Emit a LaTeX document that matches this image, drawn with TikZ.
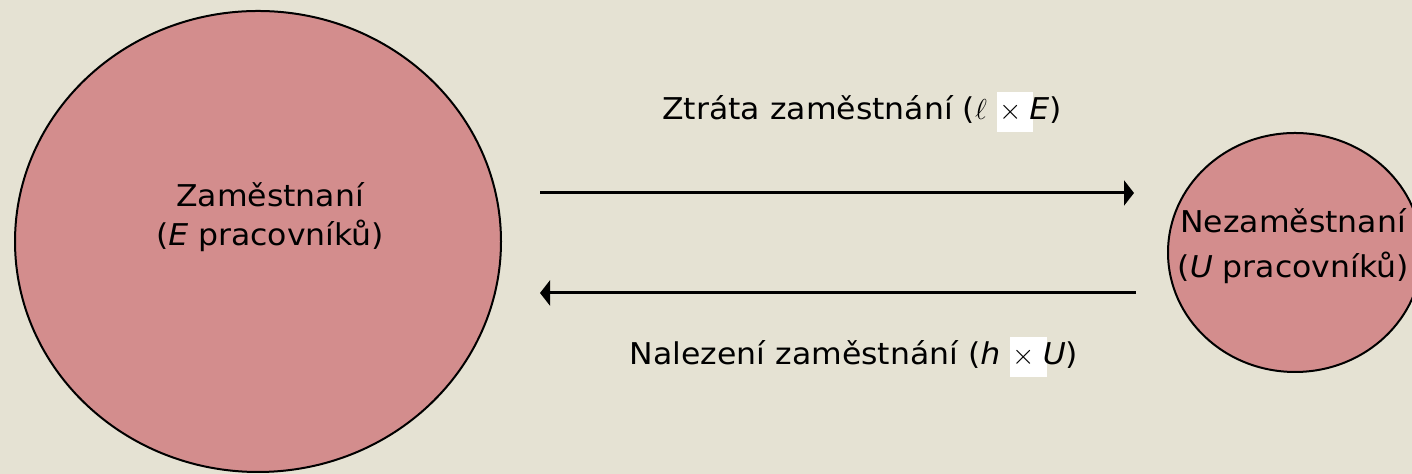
\documentclass[tikz,border=0pt]{standalone}
\usepackage{fontspec}
\usepackage{xcolor}
\usetikzlibrary{shapes.geometric,arrows.meta}
\setmainfont{DejaVu Sans}[FakeStretch=1.05]
\definecolor{slidebg}{RGB}{229,226,211}
\definecolor{poolred}{RGB}{211,141,141}
\newcommand{\whitetimes}{{\setlength{\fboxsep}{0pt}\colorbox{white}{\rule[-6pt]{0pt}{20pt}\kern1pt$\times$\kern6pt}}\kern-2pt}

\begin{document}
\begin{tikzpicture}[x=0.5pt,y=0.5pt,
    pool/.style={ellipse, draw=black, line width=1pt, fill=poolred, inner sep=0pt},
    flow/.style={line width=1.5pt, -{Triangle[length=5pt,width=12.5pt]}},
    txt/.style={font=\fontsize{15}{19.5}\selectfont, align=center}]
        % Background
        \fill[slidebg] (0,0) rectangle (1412,474);
        \useasboundingbox (0,0) rectangle (1412,474);

        % Worker pools
        \node[pool, minimum width=243pt, minimum height=230.5pt] (zam) at (258,232.5) {};
        \node[pool, minimum width=127pt, minimum height=119.5pt] (nezam) at (1295,221.5) {};
        \node[txt, anchor=base] (zamtxt) at (270,228) {Zaměstnaní\\(\textit{E} pracovníků)};
        \node[txt, anchor=base, font=\fontsize{15}{22.5}\selectfont] (nezamtxt) at (1293,196) {Nezaměstnaní\\(\textit{U} pracovníků)};

        % Flows between pools
        \coordinate (lossA) at (540,281);
        \coordinate (lossB) at (1134,281);
        \coordinate (findA) at (1136,181);
        \coordinate (findB) at (540,181);
        \draw[flow] (lossA) -- (lossB);
        \draw[flow] (findA) -- (findB);
        \node[txt, anchor=base] (losstxt) at (862,354) {Ztráta zaměstnání ($\ell$ \whitetimes\textit{E})};
        \node[txt, anchor=base] (findtxt) at (854,109) {Nalezení zaměstnání (\textit{h} \whitetimes\textit{U})};
    \end{tikzpicture}
\end{document}
